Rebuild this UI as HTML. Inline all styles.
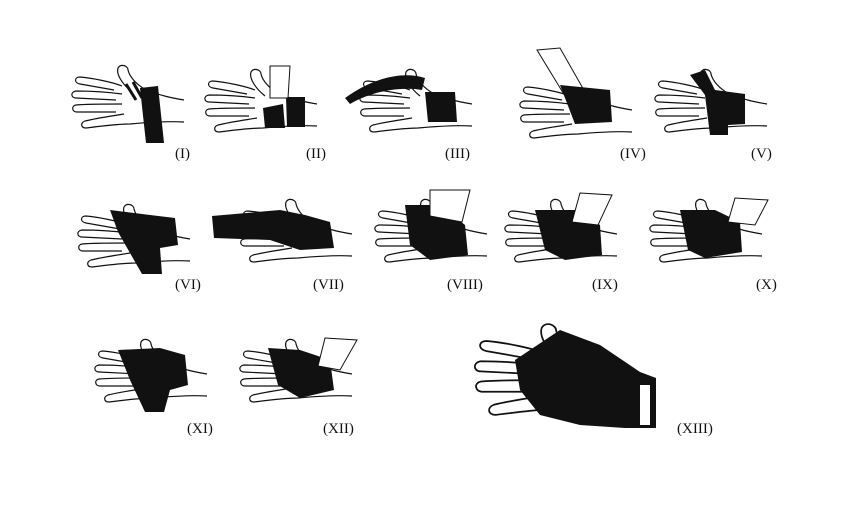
<!DOCTYPE html>
<html><head><style>
body{margin:0;background:#fff;width:850px;height:512px;overflow:hidden}
svg{display:block}
text{font-family:"Liberation Serif",serif;font-size:15px;fill:#111}
</style></head><body>
<svg width="850" height="512" viewBox="0 0 850 512">
<defs>
<g id="h" fill="#fff" stroke="#111" stroke-width="1.2" stroke-linejoin="round">
 <path d="M60,26 C50,18 44,8 46,2 C49,-3 56,0 56,4 C58,12 64,18 74,24 C90,30 100,32 112,34"/>
 <path d="M50,20 C40,16 20,12 8,11 C2,11 2,17 8,18 L42,24"/>
 <path d="M50,28 C35,26 15,25 4,25 C-2,26 -1,32 4,32 L44,34"/>
 <path d="M50,38 C35,38 15,38 4,39 C-1,40 0,46 5,46 L44,46"/>
 <path d="M52,48 C40,50 25,52 13,55 C8,57 9,62 14,62 C30,60 45,58 58,58 C80,56 96,55 112,56"/>
</g>
</defs>
<g>
<use href="#h" x="72" y="66"/>
<path d="M140,88 L158,86 L164,143 L146,143 Z" fill="#111"/>
<path d="M126,84 L136,100 M133,82 L142,98" stroke="#111" stroke-width="3"/>
<use href="#h" x="205" y="70"/>
<path d="M263,108 L283,104 L285,128 L265,128 Z" fill="#111"/>
<path d="M286,97 L305,97 L305,127 L287,127 Z" fill="#111"/>
<path d="M270,66 L290,66 L288,98 L270,98 Z" fill="#fff" stroke="#111"/>
<use href="#h" x="360" y="70"/>
<path d="M345,98 C370,80 400,70 425,78 L422,90 C400,86 370,92 350,104 Z" fill="#111"/>
<path d="M425,92 L455,92 L457,122 L428,122 Z" fill="#111"/>
<use href="#h" x="520" y="76"/>
<path d="M537,50 L560,48 L585,92 L565,96 Z" fill="#fff" stroke="#111"/>
<path d="M560,85 L610,90 L612,122 L575,124 Z" fill="#111"/>
<use href="#h" x="655" y="70"/>
<path d="M690,75 L705,70 L715,90 L730,92 L745,94 L745,124 L728,125 L728,135 L710,135 L705,95 Z" fill="#111"/>
</g>
<g>
<use href="#h" x="78" y="205"/>
<path d="M110,210 L150,215 L175,218 L178,245 L160,248 L162,274 L142,274 L118,232 Z" fill="#111"/>
<use href="#h" x="240" y="200"/>
<path d="M212,216 L280,210 L305,215 L330,222 L334,248 L300,250 L270,240 L214,238 Z" fill="#111"/>
<use href="#h" x="375" y="200"/>
<path d="M405,205 L440,205 L465,225 L468,255 L430,260 L410,245 Z" fill="#111"/>
<path d="M430,190 L470,190 L462,222 L430,216 Z" fill="#fff" stroke="#111"/>
<use href="#h" x="505" y="200"/>
<path d="M535,210 L575,210 L600,225 L602,255 L565,260 L545,250 Z" fill="#111"/>
<path d="M580,193 L612,195 L598,225 L572,222 Z" fill="#fff" stroke="#111"/>
<use href="#h" x="650" y="200"/>
<path d="M680,210 L715,210 L740,222 L742,252 L705,258 L688,250 Z" fill="#111"/>
<path d="M735,198 L768,200 L755,225 L728,222 Z" fill="#fff" stroke="#111"/>
</g>
<g>
<use href="#h" x="95" y="340"/>
<path d="M118,350 L160,348 L185,355 L188,385 L170,390 L164,412 L145,412 L130,380 Z" fill="#111"/>
<use href="#h" x="240" y="340"/>
<path d="M268,348 L300,350 L330,360 L334,390 L300,398 L278,385 Z" fill="#111"/>
<path d="M325,338 L357,340 L340,370 L318,366 Z" fill="#fff" stroke="#111"/>
<g transform="translate(475,325) scale(1.45)">
<use href="#h" x="0" y="0"/>
</g>
<path d="M515,360 L560,330 L600,345 L640,372 L656,378 L656,428 L625,428 L580,425 L540,415 L520,390 Z" fill="#111"/>
<path d="M640,385 L650,385 L650,425 L640,425 Z" fill="#fff"/>
</g>
<text x="175" y="158">(I)</text>
<text x="306" y="158">(II)</text>
<text x="445" y="158">(III)</text>
<text x="620" y="158">(IV)</text>
<text x="751" y="158">(V)</text>
<text x="175" y="289">(VI)</text>
<text x="313" y="289">(VII)</text>
<text x="447" y="289">(VIII)</text>
<text x="592" y="289">(IX)</text>
<text x="756" y="289">(X)</text>
<text x="187" y="433">(XI)</text>
<text x="323" y="433">(XII)</text>
<text x="677" y="433">(XIII)</text>
</svg>
</body></html>
